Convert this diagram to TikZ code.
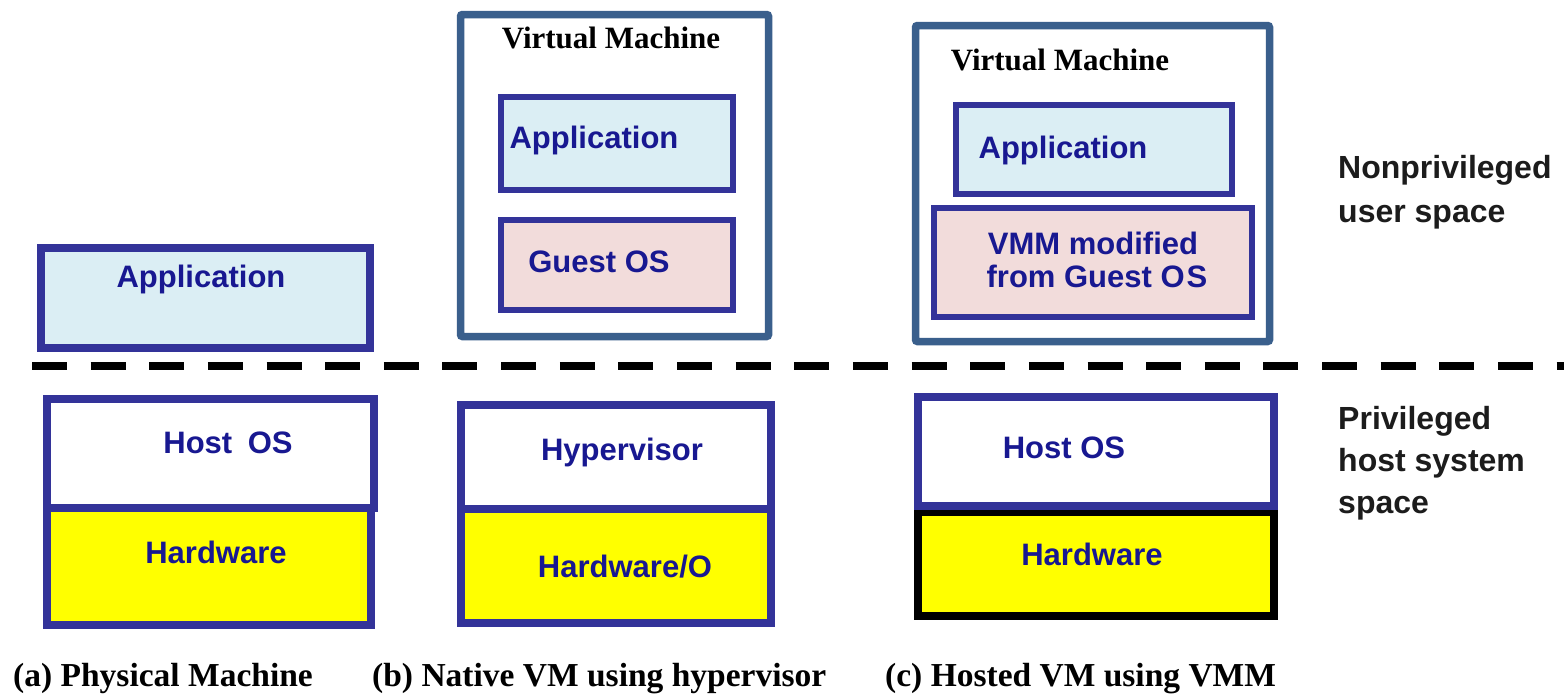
\documentclass[tikz,border=0pt]{standalone}
\usepackage{fontspec}
\setmainfont{Liberation Serif}
\setsansfont{Liberation Sans}
\definecolor{boxblue}{RGB}{51,51,153}
\definecolor{txtblue}{RGB}{24,24,145}
\definecolor{vmblue}{RGB}{58,95,140}
\definecolor{appfill}{RGB}{219,238,244}
\definecolor{osfill}{RGB}{242,220,219}
\definecolor{hwyellow}{RGB}{255,255,0}
\definecolor{lbl}{RGB}{28,28,28}
\tikzset{
  box/.style={draw=boxblue, line width=8pt, inner sep=0pt, outer sep=0pt, anchor=north west},
  inbox/.style={draw=boxblue, line width=6pt, inner sep=0pt, outer sep=0pt, anchor=north west},
  vmbox/.style={draw=vmblue, line width=7.5pt, rounded corners=2pt, inner sep=0pt, outer sep=0pt, anchor=north west, fill=white},
  btxt/.style={text=txtblue, font=\sffamily\bfseries\fontsize{31}{33}\selectfont, anchor=base, inner sep=0pt},
  vmtxt/.style={text=black, font=\rmfamily\bfseries\fontsize{31}{33}\selectfont, anchor=base, inner sep=0pt},
  sidetxt/.style={text=lbl, font=\sffamily\bfseries\fontsize{32}{34}\selectfont, anchor=base west, inner sep=0pt},
  captxt/.style={text=black, font=\rmfamily\bfseries\fontsize{33.5}{35}\selectfont, anchor=base west, inner sep=0pt},
  dashline/.style={line width=8pt, dash pattern=on 35pt off 23.64pt}
}
\begin{document}
\begin{tikzpicture}[x=1pt, y=-1pt]
\useasboundingbox[fill=white] (0,0) rectangle (1564,694);

% (a) Physical machine
\node[box, fill=appfill, minimum width=329pt, minimum height=100pt] (aapp) at (40.5,247.5) {};
\node[btxt] (aapptxt) at (201,287) {Application};
\node[box, fill=hwyellow, minimum width=324pt, minimum height=117pt] (ahw) at (47,508) {};
\node[box, fill=white, minimum width=327pt, minimum height=109pt] (ahost) at (47,399) {};
\node[btxt] (ahosttxt) at (228,453) {Host\hspace{0.5em}OS};
\node[btxt] (ahwtxt) at (216,563) {Hardware};

% (b) Native VM
\node[vmbox, minimum width=308pt, minimum height=322pt] (bvm) at (460.5,14.5) {};
\node[vmtxt] (bvmtxt) at (611,48) {Virtual Machine};
\node[inbox, fill=appfill, minimum width=232pt, minimum height=93pt] (bapp) at (501,97) {};
\node[btxt] (bapptxt) at (594,148) {Application};
\node[inbox, fill=osfill, minimum width=232pt, minimum height=90pt] (bos) at (501,220) {};
\node[btxt] (bostxt) at (599,272) {Guest OS};
\node[box, fill=hwyellow, minimum width=310pt, minimum height=114pt] (bhw) at (461,509) {};
\node[box, fill=white, minimum width=310pt, minimum height=104pt] (bhyp) at (461,405) {};
\node[btxt] (bhyptxt) at (622,460) {Hypervisor};
\node[btxt] (bhwtxt) at (625,577) {Hardware/O};

% (c) Hosted VM
\node[vmbox, minimum width=354pt, minimum height=316pt] (cvm) at (915.5,25.5) {};
\node[vmtxt] (cvmtxt) at (1060,70) {Virtual Machine};
\node[inbox, fill=appfill, minimum width=276pt, minimum height=89pt] (capp) at (956,105) {};
\node[btxt] (capptxt) at (1063,158) {Application};
\node[inbox, fill=osfill, minimum width=318pt, minimum height=109pt] (cvmm) at (934,208) {};
\node[btxt] (cvmm1) at (1093,254) {VMM modified};
\node[btxt] (cvmm2) at (1097,287) {from Guest O\kern2pt S};
\node[draw=black, line width=8pt, inner sep=0pt, outer sep=0pt, anchor=north west, fill=hwyellow, minimum width=356pt, minimum height=104pt] (chw) at (918,512) {};
\node[box, fill=white, minimum width=356pt, minimum height=109pt] (chost) at (918,397) {};
\node[btxt] (chosttxt) at (1064,458) {Host OS};
\node[btxt] (chwtxt) at (1092,565) {Hardware};

% privilege boundary
\coordinate (dl1) at (32,366);
\coordinate (dl2) at (1564,366);
\draw[dashline] (dl1) -- (dl2);

% side labels
\node[sidetxt] (np1) at (1338,178) {Nonprivileged};
\node[sidetxt] (np2) at (1338,222) {user space};
\node[sidetxt] (pr1) at (1338,429) {Privileged};
\node[sidetxt] (pr2) at (1338,471) {host system};
\node[sidetxt] (pr3) at (1338,513) {space};

% captions
\node[captxt] (capa) at (13,686) {(a) Physical Machine};
\node[captxt] (capb) at (372,686) {(b) Native VM using hypervisor};
\node[captxt] (capc) at (885,686) {(c) Hosted VM using VMM};
\end{tikzpicture}
\end{document}
